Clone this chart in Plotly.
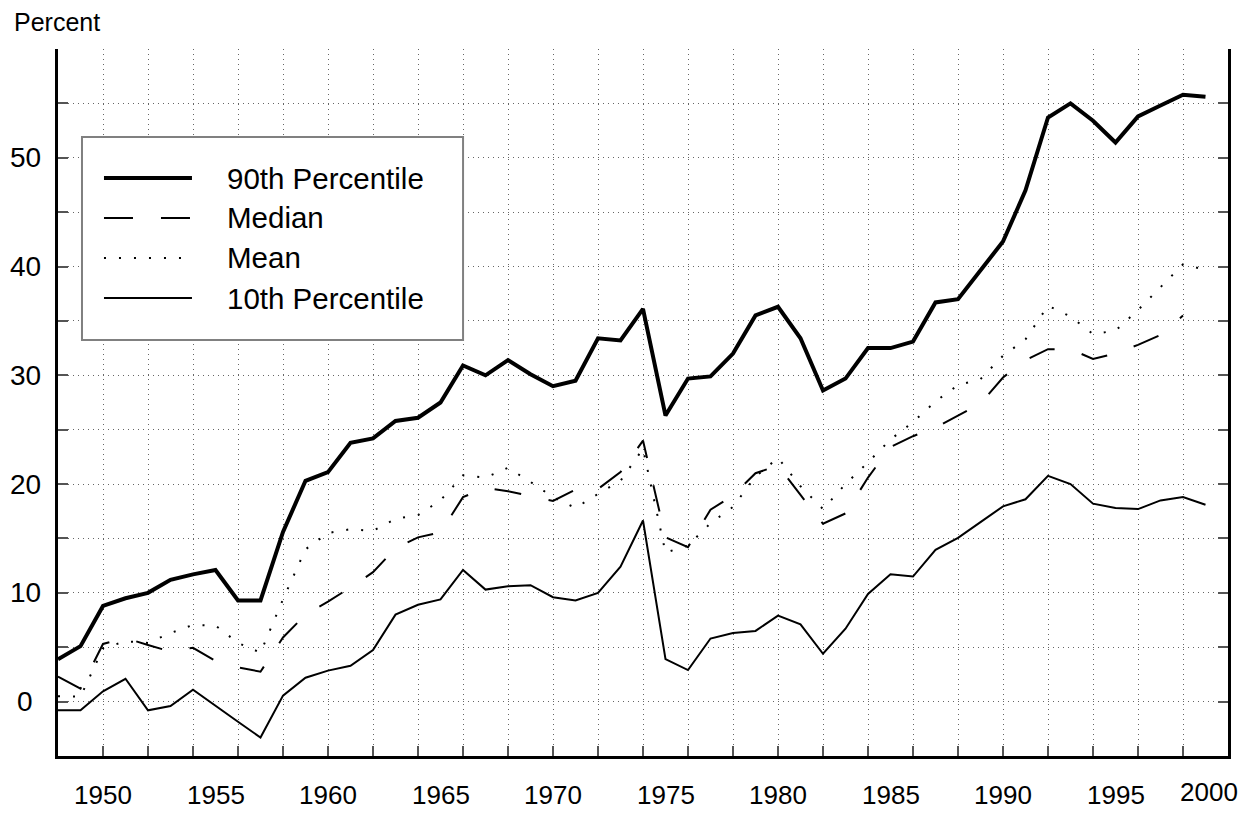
import plotly.graph_objects as go

years = list(range(1948, 2000))

p90 = [3.9, 5.1, 8.8, 9.5, 10.0, 11.2, 11.7, 12.1, 9.3, 9.3,
       15.6, 20.3, 21.1, 23.8, 24.2, 25.8, 26.1, 27.5, 30.9, 30.0,
       31.4, 30.1, 29.0, 29.5, 33.4, 33.2, 36.1, 26.3, 29.7, 29.9,
       32.0, 35.5, 36.3, 33.4, 28.6, 29.7, 32.5, 32.5, 33.1, 36.7,
       37.0, 39.6, 42.3, 47.0, 53.7, 55.0, 53.4, 51.4, 53.8, 54.8,
       55.8, 55.6]

median = [2.3, 1.2, 5.3, 5.85, 5.2, 4.6, 4.95, 3.75, 3.15, 2.75,
          5.9, 8.0, 9.2, 10.5, 11.9, 14.1, 15.1, 15.55, 18.8, 19.65,
          19.35, 18.9, 18.45, 19.5, 19.55, 21.1, 24.0, 15.1, 14.2, 17.65,
          18.95, 21.0, 21.7, 19.0, 16.35, 17.3, 20.6, 23.4, 24.4, 25.2,
          26.3, 27.4, 29.8, 31.4, 32.4, 32.4, 31.5, 32.0, 32.8, 33.7,
          35.5, None]

mean = [0.5, 0.45, 4.9, 5.55, 5.4, 6.3, 7.05, 7.0, 5.4, 4.5,
        9.4, 14.0, 15.5, 15.85, 15.7, 16.8, 17.15, 18.5, 20.8, 20.6,
        21.5, 20.2, 18.8, 17.8, 19.1, 20.3, 23.25, 13.7, 14.35, 16.4,
        17.9, 20.7, 22.4, 19.8, 17.7, 20.0, 22.0, 24.1, 25.7, 27.6,
        29.1, 29.65, 31.8, 33.3, 36.4, 35.4, 33.8, 34.1, 36.0, 38.1,
        40.2, 39.7]

p10 = [-0.8, -0.8, 0.95, 2.1, -0.8, -0.4, 1.1, -0.4, -1.85, -3.3,
       0.55, 2.2, 2.85, 3.3, 4.75, 8.0, 8.9, 9.4, 12.1, 10.3,
       10.6, 10.7, 9.6, 9.3, 10.0, 12.4, 16.65, 3.9, 2.9, 5.8,
       6.3, 6.5, 7.9, 7.1, 4.4, 6.7, 9.9, 11.7, 11.5, 13.95,
       15.05, 16.5, 17.95, 18.6, 20.75, 20.0, 18.2, 17.8, 17.7, 18.5,
       18.8, 18.1]

series_names = ["90th Percentile", "Median", "Mean", "10th Percentile"]
x_label_years = [1950, 1955, 1960, 1965, 1970, 1975, 1980, 1985, 1990, 1995, 2000]
y_label_values = [0, 10, 20, 30, 40, 50]
x_grid_years = list(range(1950, 2000, 2))
y_grid_values = list(range(0, 60, 5))

FONT = "Liberation Sans, Arial, Helvetica, sans-serif"

styles = [
    dict(color="black", width=4, dash="solid"),
    dict(color="black", width=2, dash="27px,28px"),
    dict(color="black", width=2, dash="2px,13px"),
    dict(color="black", width=2, dash="solid"),
]
series = [p90, median, mean, p10]

fig = go.Figure()
for name, vals, st in zip(series_names, series, styles):
    fig.add_trace(go.Scatter(x=years, y=vals, mode="lines", name=name,
                             line=dict(color=st["color"], width=st["width"], dash=st["dash"]),
                             connectgaps=False, showlegend=False))

# page has an 8px body margin; figure sized to fit the 1252x813 window
fig.update_layout(
    width=1244, height=805, autosize=False,
    margin=dict(l=50, r=24, t=41, b=57),
    paper_bgcolor="white", plot_bgcolor="white",
    font=dict(family=FONT, color="black"),
    xaxis=dict(range=[1948, 2000], showline=True, linewidth=3, linecolor="black",
               ticks="inside", ticklen=10, tickwidth=1.5, tickcolor="#555",
               tickvals=x_grid_years, showticklabels=False,
               showgrid=True, gridcolor="#666", gridwidth=1, griddash="1px,4px",
               zeroline=False),
    yaxis=dict(range=[-5, 60], showline=True, linewidth=3, linecolor="black", mirror="ticks",
               ticks="inside", ticklen=10, tickwidth=1.5, tickcolor="#555",
               tickvals=y_grid_values, showticklabels=False,
               showgrid=True, gridcolor="#666", gridwidth=1, griddash="1px,4px",
               zeroline=False),
)

annotations = []
for v in y_label_values:
    annotations.append(dict(x=-0.0282, xref="paper", y=v, yref="y", text=str(v),
                            showarrow=False, xanchor="center", yanchor="middle",
                            font=dict(size=28, family=FONT)))
for yr in x_label_years:
    if yr == 2000:
        annotations.append(dict(x=1999.14, xref="x", y=-0.0505, yref="paper", text=str(yr),
                                showarrow=False, xanchor="center", yanchor="middle",
                                font=dict(size=26, family=FONT)))
    else:
        annotations.append(dict(x=yr, xref="x", y=-0.0545, yref="paper", text=str(yr),
                                showarrow=False, xanchor="center", yanchor="middle",
                                font=dict(size=26, family=FONT)))
annotations.append(dict(x=-0.0393, xref="paper", y=1.0386, yref="paper", text="Percent",
                        showarrow=False, xanchor="left", yanchor="middle",
                        font=dict(size=25, family=FONT)))

shapes = [dict(type="rect", xref="paper", yref="paper", x0=0.0205, x1=0.3462, y0=0.5884, y1=0.8755,
               line=dict(color="#808080", width=2), fillcolor="white", layer="above")]
leg_y = [0.8175, 0.7610, 0.7044, 0.6478]
for name, st, ly in zip(series_names, styles, leg_y):
    shapes.append(dict(type="line", xref="paper", yref="paper", x0=0.0393, x1=0.1145, y0=ly, y1=ly,
                       line=dict(color=st["color"], width=st["width"],
                                 dash=st["dash"].replace("27px,28px", "29px,28px")),
                       layer="above"))
    annotations.append(dict(x=0.1427, xref="paper", y=ly, yref="paper", text=name,
                            showarrow=False, xanchor="left", yanchor="middle",
                            font=dict(size=29.5, family=FONT)))

fig.update_layout(annotations=annotations, shapes=shapes)
fig.write_html("out.html")
